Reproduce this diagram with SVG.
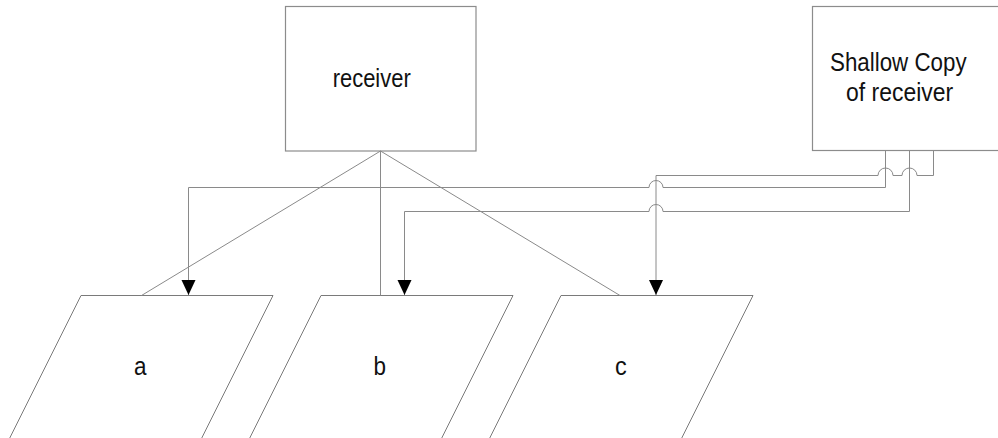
<svg xmlns="http://www.w3.org/2000/svg" width="998" height="438" viewBox="0 0 998 438">
<style>
.box{fill:#fff;stroke:#8c8c8c;stroke-width:1.2}
.par{fill:#fff;stroke:#7a7a7a;stroke-width:1}
.ln{fill:none;stroke:#8a8a8a;stroke-width:1}
.lbl{font-family:"Liberation Sans",Arial,sans-serif;font-size:26.5px;fill:#111}
</style>
<defs>
<marker id="ah" markerUnits="userSpaceOnUse" markerWidth="15" markerHeight="15" viewBox="0 -7.5 15 15" refX="15" refY="0" orient="auto">
<path d="M0,-7 L15,0 L0,7 Z" fill="#000"/>
</marker>
</defs>
<rect width="998" height="438" fill="#fff"/>
<g id="a">
<polygon class="par" points="81,295.5 273,295.5 201,439.5 9,439.5"/>
<text class="lbl" x="140.3" y="375" text-anchor="middle" textLength="12.5" lengthAdjust="spacingAndGlyphs">a</text>
</g>
<g id="b">
<polygon class="par" points="321,295.5 513,295.5 441,439.5 249,439.5"/>
<text class="lbl" x="379.7" y="375" text-anchor="middle" textLength="12.5" lengthAdjust="spacingAndGlyphs">b</text>
</g>
<g id="c">
<polygon class="par" points="561,295.5 753,295.5 681,439.5 489,439.5"/>
<text class="lbl" x="620.8" y="375" text-anchor="middle" textLength="11.7" lengthAdjust="spacingAndGlyphs">c</text>
</g>
<g id="receiver">
<rect class="box" x="285.5" y="6.5" width="190.5" height="144.5"/>
<text class="lbl" x="371.7" y="87" text-anchor="middle" textLength="78" lengthAdjust="spacingAndGlyphs">receiver</text>
</g>
<g id="shallow-copy">
<rect class="box" x="812.5" y="6.5" width="200" height="144"/>
<text class="lbl" x="898.3" y="71" text-anchor="middle" textLength="136.5" lengthAdjust="spacingAndGlyphs">Shallow Copy</text>
<text class="lbl" x="899.6" y="101" text-anchor="middle" textLength="107" lengthAdjust="spacingAndGlyphs">of receiver</text>
</g>
<g id="connectors">
<path class="ln" d="M380.5,151 L141.5,295.5"/>
<path class="ln" d="M380.5,151 V295.5"/>
<path class="ln" d="M380.5,151 L620,295.5"/>
<path class="ln" marker-end="url(#ah)" d="M885.5,151 V187.5 H663 A7,7 0 0 0 649,187.5 H188.5 V295"/>
<path class="ln" marker-end="url(#ah)" d="M909.5,151 V211.5 H663 A7,7 0 0 0 649,211.5 H404.5 V295"/>
<path class="ln" marker-end="url(#ah)" d="M933.5,151 V175.5 H917 A7.5,7.5 0 0 0 902,175.5 H893 A7.5,7.5 0 0 0 878,175.5 H656 V295"/>
</g>
</svg>
